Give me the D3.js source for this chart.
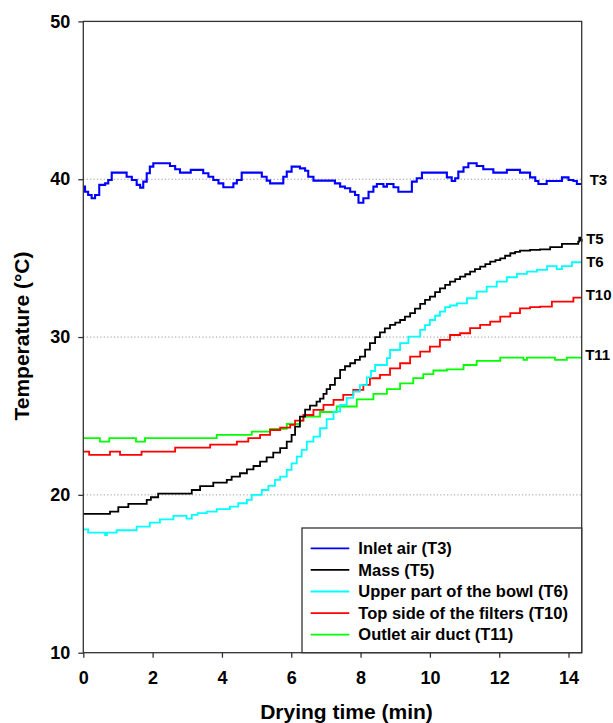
<!DOCTYPE html>
<html>
<head>
<meta charset="utf-8">
<script src="https://cdn.jsdelivr.net/npm/d3@7"></script>
<style>
  body { margin: 0; background: #fff; }
  svg { display: block; font-family: "Liberation Sans", Arial, Helvetica, sans-serif; }
</style>
</head>
<body>
<svg id="chart" width="613" height="723"></svg>
<script>
// Drying run: temperature probes vs. drying time, [time (min), temperature (°C)]
const inletAirT3 = [
  [0,39.53],[0.05,39.21],[0.14,39.0],[0.24,38.79],[0.34,39.0],[0.46,39.64],[0.63,39.74],[0.72,39.95],
  [0.82,40.42],[1.20,40.42],[1.25,40.16],[1.40,39.95],[1.54,39.64],[1.64,39.47],[1.73,39.85],[1.83,40.38],
  [1.92,40.80],[2.02,41.01],[2.45,41.01],[2.50,40.84],[2.65,40.63],[2.79,40.42],[3.10,40.59],[3.42,40.59],
  [3.46,40.38],[3.61,40.16],[3.75,39.95],[3.90,39.74],[4.04,39.49],[4.23,39.49],[4.33,39.74],[4.43,39.95],
  [4.57,40.42],[5.10,40.42],[5.15,40.16],[5.29,39.91],[5.39,39.74],[5.68,39.74],[5.77,40.16],[5.87,40.48],
  [6.01,40.80],[6.21,40.80],[6.25,40.69],[6.40,40.54],[6.49,40.16],[6.64,39.91],[7.22,39.91],[7.26,39.74],
  [7.41,39.53],[7.55,39.43],[7.70,39.21],[7.84,39.0],[7.94,38.51],[8.08,38.79],[8.23,39.21],[8.37,39.53],
  [8.47,39.70],[8.66,39.53],[8.76,39.70],[8.95,39.49],[9.09,39.21],[9.43,39.21],[9.48,39.85],[9.62,40.06],
  [9.77,40.42],[10.44,40.42],[10.49,40.12],[10.63,39.89],[10.73,40.06],[10.82,40.48],[10.97,40.76],[11.11,41.01],
  [11.30,41.01],[11.35,40.84],[11.54,40.63],[11.83,40.42],[12.17,40.42],[12.22,40.59],[12.55,40.59],[12.60,40.42],
  [12.84,40.42],[12.89,40.12],[13.04,39.89],[13.13,39.70],[13.32,39.70],[13.37,39.89],[13.76,39.89],[13.81,40.12],
  [14.0,39.95],[14.14,39.89],[14.24,39.70],[14.38,39.70]
];

const massT5 = [
  [0,18.80],[0.77,18.94],[1.01,19.22],[1.30,19.43],[1.83,19.68],[1.95,19.85],[2.16,20.08],[3.13,20.31],
  [3.37,20.55],[3.75,20.77],[4.14,20.95],[4.28,21.16],[4.52,21.37],[4.72,21.62],[4.91,21.83],[5.10,22.11],
  [5.29,22.38],[5.48,22.68],[5.68,22.96],[5.87,23.37],[6.01,23.80],[6.11,24.32],[6.25,24.96],[6.40,25.40],
  [6.54,25.65],[6.73,25.91],[6.83,26.10],[6.93,26.40],[7.02,26.70],[7.12,26.97],[7.26,27.40],[7.41,27.92],
  [7.55,28.15],[7.70,28.34],[7.84,28.55],[7.98,28.76],[8.13,29.20],[8.27,29.61],[8.42,30.00],[8.56,30.30],
  [8.70,30.55],[8.85,30.77],[9.00,30.92],[9.14,31.08],[9.28,31.30],[9.43,31.51],[9.57,31.80],[9.72,32.10],
  [9.86,32.35],[10.0,32.56],[10.15,32.85],[10.29,33.09],[10.44,33.30],[10.58,33.51],[10.73,33.67],[10.87,33.83],
  [11.02,33.98],[11.16,34.14],[11.30,34.30],[11.45,34.46],[11.60,34.62],[11.74,34.78],[11.89,34.88],[12.03,34.99],
  [12.17,35.15],[12.32,35.31],[12.46,35.40],[12.60,35.47],[12.89,35.52],[13.18,35.56],[13.47,35.70],[13.81,35.90],
  [14.28,36.04],[14.31,36.30],[14.36,36.15],[14.38,36.04]
];

const bowlT6 = [
  [0,17.82],[0.14,17.61],[0.60,17.61],[0.63,17.45],[0.68,17.61],[0.96,17.76],[1.54,17.99],[1.92,18.24],
  [2.21,18.45],[2.60,18.67],[2.98,18.50],[3.13,18.73],[3.30,18.84],[3.56,18.94],[3.85,19.10],[4.23,19.26],
  [4.47,19.47],[4.72,19.68],[4.86,20.0],[5.15,20.31],[5.34,20.57],[5.53,20.95],[5.68,21.16],[5.87,21.58],
  [6.01,22.0],[6.16,22.42],[6.30,22.85],[6.45,23.37],[6.64,23.69],[6.83,24.22],[7.02,24.80],[7.22,25.27],
  [7.41,25.70],[7.60,26.15],[7.79,26.54],[7.98,26.95],[8.18,27.45],[8.30,27.85],[8.42,28.23],[8.76,28.66],
  [8.85,29.18],[9.14,29.61],[9.38,30.03],[9.72,30.45],[9.86,30.75],[10.0,31.08],[10.15,31.35],[10.29,31.61],
  [10.44,31.90],[10.58,32.0],[10.78,32.14],[11.07,32.46],[11.35,32.88],[11.64,33.19],[11.93,33.51],[12.22,33.79],
  [12.51,34.0],[12.80,34.14],[13.09,34.25],[13.38,34.50],[13.66,34.30],[13.81,34.50],[14.10,34.74],[14.38,34.74]
];

const filtersT10 = [
  [0,22.74],[0.17,22.53],[0.77,22.74],[1.06,22.53],[1.68,22.74],[2.65,22.99],[3.66,23.19],[4.43,23.37],
  [4.76,23.59],[5.10,23.80],[5.39,24.11],[5.68,24.26],[5.97,24.43],[6.11,24.70],[6.35,25.06],[6.64,25.38],
  [6.93,25.70],[7.22,26.02],[7.50,26.33],[7.79,26.65],[8.08,26.97],[8.27,27.39],[8.56,27.60],[8.85,28.02],
  [9.14,28.34],[9.43,28.76],[9.72,29.08],[10.0,29.39],[10.29,29.82],[10.58,30.13],[10.87,30.24],[11.16,30.56],
  [11.45,30.77],[11.74,30.98],[12.03,31.29],[12.32,31.51],[12.60,31.82],[12.89,31.89],[13.18,31.93],[13.52,32.24],
  [14.14,32.50],[14.38,32.50]
];

const outletT11 = [
  [0,23.59],[0.48,23.37],[0.75,23.59],[1.52,23.37],[1.78,23.59],[3.85,23.80],[4.86,24.01],[5.39,24.18],
  [5.87,24.49],[6.25,24.70],[6.35,24.96],[6.83,25.25],[7.31,25.60],[7.89,26.05],[8.37,26.40],[8.76,26.70],
  [9.14,27.07],[9.52,27.40],[9.81,27.65],[10.10,27.88],[10.49,27.95],[10.97,28.23],[11.35,28.49],[12.03,28.70],
  [12.70,28.55],[12.80,28.70],[13.61,28.55],[13.95,28.70],[14.38,28.70]
];

const seriesNames = ["Inlet air (T3)", "Mass (T5)", "Upper part of the bowl (T6)", "Top side of the filters (T10)", "Outlet air duct (T11)"];
const seriesTags = ["T3", "T5", "T6", "T10", "T11"];
const seriesColors = ["#0000ff", "#000000", "#00ffff", "#ff0000", "#00ff00"];
const seriesData = [inletAirT3, massT5, bowlT6, filtersT10, outletT11];

const xTicks = [0, 2, 4, 6, 8, 10, 12, 14];
const yTicks = [10, 20, 30, 40, 50];
const gridValues = [20, 30, 40];

const W = 613, H = 723;
const margin = { top: 21.4, right: 31.3, bottom: 70.3, left: 83.3 };

const svg = d3.select("#chart");

const x = d3.scaleLinear().domain([0, 14.38]).range([margin.left, W - margin.right]);
const y = d3.scaleLinear().domain([10, 50]).range([H - margin.bottom, margin.top]);

// dotted horizontal grid
svg.append("g")
  .selectAll("line")
  .data(gridValues)
  .join("line")
  .attr("x1", x.range()[0]).attr("x2", x.range()[1])
  .attr("y1", d => y(d)).attr("y2", d => y(d))
  .attr("stroke", "#9a9a9a").attr("stroke-width", 1)
  .attr("stroke-dasharray", "1.2,2.2");

// temperature traces
const line = d3.line()
  .x(d => x(d[0]))
  .y(d => y(d[1]))
  .curve(d3.curveStepAfter);

const traceOrder = [4, 3, 2, 1, 0];
svg.append("g")
  .selectAll("path")
  .data(traceOrder)
  .join("path")
  .attr("d", i => line(seriesData[i]))
  .attr("fill", "none")
  .attr("stroke", i => seriesColors[i])
  .attr("stroke-width", i => i === 0 ? 2.1 : 1.8)
  .attr("stroke-linejoin", "miter");

// axes
const yAxis = svg.append("g")
  .attr("transform", `translate(${margin.left},0)`)
  .call(d3.axisLeft(y).tickValues(yTicks).tickSize(5).tickPadding(8).tickFormat(d3.format("d")));
const xAxis = svg.append("g")
  .attr("transform", `translate(0,${H - margin.bottom})`)
  .call(d3.axisBottom(x).tickValues(xTicks).tickSize(5).tickPadding(14).tickFormat(d3.format("d")));

[yAxis, xAxis].forEach(g => {
  g.select(".domain").remove();
  g.selectAll(".tick line").attr("stroke", "#333").attr("stroke-width", 1.3);
  g.selectAll(".tick text")
    .attr("fill", "#000")
    .style("font-size", "18px")
    .style("font-weight", "bold")
    .style("font-family", "'Liberation Sans', Arial, sans-serif");
});

// plot frame
svg.append("rect")
  .attr("x", x.range()[0]).attr("y", y.range()[1])
  .attr("width", x.range()[1] - x.range()[0])
  .attr("height", y.range()[0] - y.range()[1])
  .attr("fill", "none").attr("stroke", "#333").attr("stroke-width", 1.3);

// probe tags at the right edge
const tagPositions = [
  { dx: 8, yv: 39.95 }, { dx: 4.5, yv: 36.2 }, { dx: 4.5, yv: 34.8 },
  { dx: 4, yv: 32.65 }, { dx: 3.5, yv: 28.85 }
];
svg.append("g")
  .selectAll("text")
  .data(seriesTags)
  .join("text")
  .attr("x", (d, i) => x.range()[1] + tagPositions[i].dx)
  .attr("y", (d, i) => y(tagPositions[i].yv))
  .attr("dy", "0.35em")
  .style("font-size", "15px")
  .style("font-weight", "bold")
  .text(d => d);

// axis titles
svg.append("text")
  .attr("x", 346.5).attr("y", 719)
  .attr("text-anchor", "middle")
  .style("font-size", "21px").style("font-weight", "bold")
  .text("Drying time (min)");
svg.append("text")
  .attr("transform", "translate(29,336) rotate(-90)")
  .attr("text-anchor", "middle")
  .style("font-size", "21px").style("font-weight", "bold")
  .text("Temperature (°C)");

// legend
const legend = svg.append("g");
const lgX = 302, lgY = 528;
legend.append("rect")
  .attr("x", lgX).attr("y", lgY)
  .attr("width", x.range()[1] - lgX)
  .attr("height", y.range()[0] - lgY)
  .attr("fill", "#fff").attr("stroke", "#333").attr("stroke-width", 1.3);
const rows = legend.selectAll("g.row")
  .data(seriesNames)
  .join("g")
  .attr("class", "row")
  .attr("transform", (d, i) => `translate(0,${548.3 + i * 21.6})`);
rows.append("line")
  .attr("x1", 310.7).attr("x2", 349.3)
  .attr("stroke", (d, i) => seriesColors[i])
  .attr("stroke-width", 1.8);
rows.append("text")
  .attr("x", 358.3).attr("dy", "0.35em")
  .style("font-size", "16.5px").style("font-weight", "bold")
  .text(d => d);
</script>
</body>
</html>
